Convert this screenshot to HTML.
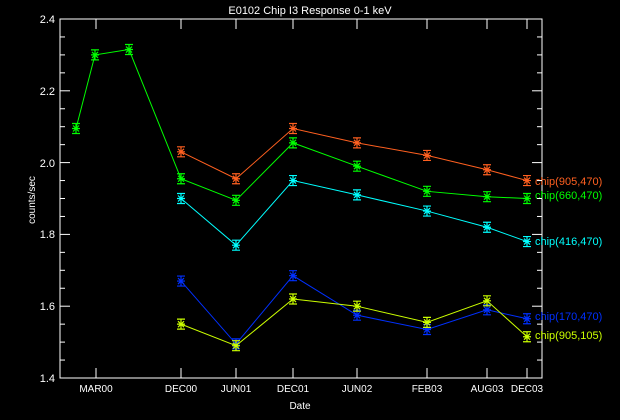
<!DOCTYPE html>
<html><head><style>
body{margin:0;background:#000;}
svg{display:block;font-family:"Liberation Sans",sans-serif;}
text{fill:#fff;font-size:11px;}
</style></head><body>
<svg id="s" width="620" height="420" viewBox="0 0 620 420">
<rect width="620" height="420" fill="#000"/>
<text x="310" y="14" text-anchor="middle" font-size="13">E0102 Chip I3 Response 0-1 keV</text>
<rect x="60" y="19" width="482" height="359" fill="none" stroke="#fff" stroke-width="1"/>
<g text-anchor="end">
<text x="55" y="382">1.4</text><text x="55" y="310">1.6</text><text x="55" y="238">1.8</text>
<text x="55" y="167">2.0</text><text x="55" y="95">2.2</text><text x="55" y="23">2.4</text>
</g>
<g text-anchor="middle">
<text x="96" y="392" style="font-size:10px">MAR00</text><text x="181" y="392" style="font-size:10px">DEC00</text>
<text x="236" y="392" style="font-size:10px">JUN01</text><text x="293" y="392" style="font-size:10px">DEC01</text>
<text x="357" y="392" style="font-size:10px">JUN02</text><text x="427" y="392" style="font-size:10px">FEB03</text>
<text x="487" y="392" style="font-size:10px">AUG03</text><text x="527" y="392" style="font-size:10px">DEC03</text>
</g>
<text x="300" y="409" text-anchor="middle" style="font-size:10px">Date</text>
<text x="0" y="0" text-anchor="middle" style="font-size:10px" transform="translate(35,200) rotate(-90)">counts/sec</text>
<g style="font-size:11px">
<text x="535" y="185" style="fill:#ff6020">chip(905,470)</text>
<text x="535" y="199" style="fill:#00ff00">chip(660,470)</text>
<text x="535" y="245" style="fill:#00ffff">chip(416,470)</text>
<text x="535" y="320" style="fill:#0030ff">chip(170,470)</text>
<text x="535" y="339" style="fill:#ccff00">chip(905,105)</text>
</g>
<g id="g"></g>
</svg>
<script>
var g=document.getElementById('g'),h='';
function Y(v){return 378-(v-1.4)*359;}
for(var v=1.4;v<=2.401;v+=0.05){var y=Y(v),M=Math.round(v*100)%20==0,l=M?10:5;
h+='<line x1="60" x2="'+(60+l)+'" y1="'+y+'" y2="'+y+'" stroke="#fff"/><line x1="542" x2="'+(542-l)+'" y1="'+y+'" y2="'+y+'" stroke="#fff"/>';}
var xs=[96,181,236,293,357,427,487,527];
xs.forEach(function(x){h+='<line x1="'+x+'" x2="'+x+'" y1="378" y2="368" stroke="#fff"/><line x1="'+x+'" x2="'+x+'" y1="19" y2="29" stroke="#fff"/>';});
var X=[181,236,293,357,427,487,527];
var S=[
['#ff6020',X,[2.03,1.955,2.095,2.055,2.02,1.98,1.95]],
['#00ff00',[76,95,129].concat(X),[2.095,2.30,2.315,1.955,1.895,2.055,1.99,1.92,1.905,1.90]],
['#00ffff',X,[1.90,1.77,1.95,1.91,1.865,1.82,1.78]],
['#0030ff',X,[1.67,1.495,1.685,1.575,1.535,1.59,1.565]],
['#ccff00',X,[1.55,1.49,1.62,1.60,1.555,1.615,1.515]]];
S.forEach(function(s){var c=s[0],p='';
s[1].forEach(function(x,i){p+=x+','+Y(s[2][i])+' ';});
h+='<polyline points="'+p+'" fill="none" stroke="'+c+'" stroke-width="1"/>';
s[1].forEach(function(x,i){var y=Y(s[2][i]),e=5;
h+='<path d="M'+x+' '+(y-e)+'V'+(y+e)+'M'+(x-4)+' '+(y-e)+'H'+(x+4)+'M'+(x-4)+' '+(y+e)+'H'+(x+4)+'M'+(x-3)+' '+(y-3)+'L'+(x+3)+' '+(y+3)+'M'+(x-3)+' '+(y+3)+'L'+(x+3)+' '+(y-3)+'M'+(x-4)+' '+y+'H'+(x+4)+'" stroke="'+c+'" fill="none" stroke-width="1.2"/>';});
});
g.innerHTML=h;
</script>
</body></html>
